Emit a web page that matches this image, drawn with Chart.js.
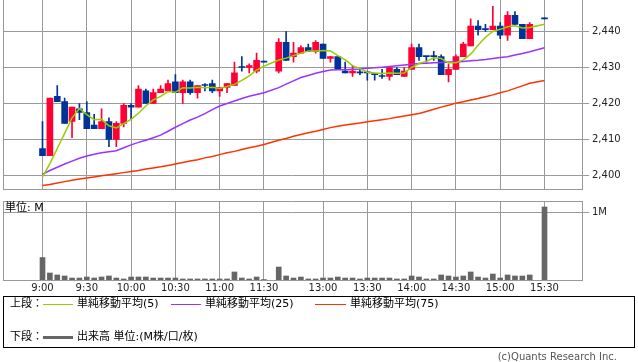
<!DOCTYPE html>
<html><head><meta charset="utf-8">
<script src="https://cdn.jsdelivr.net/npm/chart.js@4/dist/chart.umd.min.js"></script>
<style>
html,body{margin:0;padding:0;background:#fff;width:638px;height:362px;overflow:hidden;position:relative;font-family:"DejaVu Sans","Noto Sans CJK JP",sans-serif;}
#c1{position:absolute;left:0;top:-1px;}
#c2{position:absolute;left:0;top:190px;}
.t{position:absolute;white-space:nowrap;font-size:11px;line-height:12px;color:#000;}
.ln{position:absolute;height:1px;}
#box{position:absolute;left:3px;top:296px;width:632px;height:52px;box-sizing:border-box;border:1px solid #000;}
</style></head>
<body>
<canvas id="c1" width="638" height="200" style="width:638px;height:200px"></canvas>
<canvas id="c2" width="638" height="110" style="width:638px;height:110px"></canvas>
<div class="t" style="left:5px;top:202px;">単位: M</div>
<div id="box"></div>
<div class="t" style="left:10px;top:298px;">上段：</div>
<div class="ln" style="left:43px;top:304px;width:30px;background:#99cc00"></div>
<div class="t" style="left:77px;top:298px;">単純移動平均(5)</div>
<div class="ln" style="left:171px;top:304px;width:30px;background:#9933ff"></div>
<div class="t" style="left:205px;top:298px;">単純移動平均(25)</div>
<div class="ln" style="left:315px;top:304px;width:31px;background:#ff3300"></div>
<div class="t" style="left:350px;top:298px;">単純移動平均(75)</div>
<div class="t" style="left:10px;top:331px;">下段：</div>
<div class="ln" style="left:43px;top:336px;width:30px;height:3px;background:#666"></div>
<div class="t" style="left:77px;top:331px;">出来高 単位:(M株/口/枚)</div>
<div class="t" style="right:21px;top:351px;font-size:10px;color:#555;">(c)Quants Research Inc.</div>
<script>
// slot times (5-minute bars); slot 31 and 67 have no trades
const times = ['9:00','9:05','9:10','9:15','9:20','9:25','9:30','9:35','9:40','9:45','9:50','9:55',
 '10:00','10:05','10:10','10:15','10:20','10:25','10:30','10:35','10:40','10:45','10:50','10:55',
 '11:00','11:05','11:10','11:15','11:20','11:25','11:30','12:25',
 '12:30','12:35','12:40','12:45','12:50','12:55','13:00','13:05','13:10','13:15','13:20','13:25',
 '13:30','13:35','13:40','13:45','13:50','13:55','14:00','14:05','14:10','14:15','14:20','14:25',
 '14:30','14:35','14:40','14:45','14:50','14:55','15:00','15:05','15:10','15:15','15:20','15:25','15:30'];
const tickSlots = [0,6,12,18,24,30,38,44,50,56,62,68];
const priceTicks = [2400,2410,2420,2430,2440];
const volTicks = [1];

const open = [2407.5,2405.5,2422,2420.5,2415,2418.5,2417.5,2414,2413,2415,2410,2414.5,
 2419.5,2419,2423.5,2420,2423,2423.5,2426,2423,2426,2423,2425,2425.5,
 2423.5,2424.5,2425,2430,2430,2429,2431.5,null,
 2429,2437,2433,2434,2435.5,2434.5,2436.5,2432.5,2433,2429,2428.5,2428.5,
 2428.5,2428,2427.5,2427.5,2429.5,2427.5,2429.5,2435.5,2433,2433,2433,2428,
 2429.5,2433,2436,2441.5,2440.5,2440.5,2441.5,2439,2444.5,2442,2438,null,2443.5];
const high = [2415,2421.5,2425,2421.5,2419,2420,2420.5,2417,2418.5,2416,2415,2420,
 2420,2425,2424,2424,2425,2426.5,2428,2426.5,2426.5,2425,2425.5,2426.5,
 2424.5,2425.5,2431.5,2433,2431,2434,2431.5,null,
 2438,2440,2437,2436,2436.5,2437.5,2436.5,2433,2433,2431.5,2430.5,2429.5,
 2429,2428,2429.5,2430,2430,2430,2436.5,2436.5,2433,2434.5,2433.5,2431,
 2433.5,2437,2443.5,2443,2442,2447,2442.5,2445.5,2445.5,2442,2442.5,null,2443.5];
const low = [2405.5,2405.5,2420.5,2414.5,2410.5,2415.5,2413,2413,2413,2408,2408,2413.5,
 2415.5,2419,2420,2420,2423,2423.5,2423,2420,2422.5,2421.5,2423.5,2423,
 2422,2423,2425,2429,2428.5,2428.5,2431.5,null,
 2428.5,2432,2431.5,2434,2434.5,2434,2432.5,2431.5,2429.5,2428.5,2427.5,2428,
 2426.5,2426.5,2427,2426.5,2428,2427.5,2429.5,2432,2431.5,2432,2428,2426,
 2429.5,2433,2436,2439,2440,2440.5,2438,2437.5,2442,2438,2438,null,2443.5];
const close = [2405.5,2421.5,2420.5,2414.5,2419,2417.5,2413,2413,2415,2410,2414.5,2419.5,
 2419,2424,2420,2423,2424,2425.5,2423,2426,2423,2425,2425,2423.5,
 2424.5,2425.5,2428.5,2430,2430.5,2432,2431.5,null,
 2437,2432,2434,2435.5,2434.5,2437,2432.5,2433,2429.5,2428.5,2429,2428.5,
 2428.5,2428,2427.5,2430,2428,2429,2435.5,2433,2433,2433,2428,2429.5,
 2433,2436.5,2441.5,2440.5,2440.5,2441.5,2439,2444.5,2442,2438,2442,null,2443.5];
const ma5 = [2399.6,2403.3,2407.5,2411.7,2416.0,2418.6,2416.9,2415.5,2415.6,2413.8,2413.2,2414.4,
 2415.6,2417.3,2419.3,2421.0,2422.0,2423.3,2423.1,2424.4,2424.3,2424.5,2424.4,2424.5,
 2424.2,2424.7,2425.3,2426.4,2427.7,2429.3,2430.4,null,
 2432.1,2432.6,2433.3,2434.0,2434.6,2434.6,2434.7,2434.6,2433.3,2432.1,2430.5,2429.7,
 2428.7,2428.5,2428.3,2428.5,2428.4,2428.5,2430.0,2431.1,2431.7,2432.7,2432.5,2431.3,
 2431.3,2432.1,2433.7,2436.2,2438.4,2440.0,2440.6,2441.3,2441.6,2441.0,2441.1,null,2442.0];
const ma25 = [2400.4,2401.4,2402.3,2403.2,2404.0,2404.8,2405.4,2405.9,2406.3,2406.6,2406.9,2407.7,
 2408.5,2409.2,2409.8,2410.5,2411.2,2412.3,2413.4,2414.4,2415.4,2416.2,2417.2,2418.3,
 2419.3,2420.0,2420.7,2421.4,2422.0,2422.5,2423.0,null,
 2424.4,2425.4,2426.3,2427.2,2427.8,2428.4,2428.9,2429.3,2429.4,2429.4,2429.5,2429.6,
 2429.8,2429.9,2430.1,2430.3,2430.5,2430.7,2430.9,2431.1,2431.2,2431.3,2431.4,2431.5,
 2431.5,2431.7,2431.9,2432.0,2432.2,2432.5,2432.8,2433.0,2433.5,2433.9,2434.4,null,2435.5];
const ma75 = [2397.2,2397.5,2397.9,2398.3,2398.7,2399.0,2399.3,2399.6,2399.9,2400.2,2400.5,2400.8,
 2401.1,2401.4,2401.8,2402.1,2402.4,2402.8,2403.2,2403.6,2404.0,2404.4,2404.9,2405.3,
 2405.8,2406.3,2406.7,2407.2,2407.7,2408.1,2408.6,null,
 2409.8,2410.3,2410.9,2411.4,2411.9,2412.3,2412.8,2413.3,2413.7,2414.0,2414.3,2414.6,
 2414.9,2415.2,2415.5,2415.8,2416.2,2416.5,2416.9,2417.2,2417.8,2418.4,2419.0,2419.5,
 2420.1,2420.5,2421.0,2421.4,2421.9,2422.4,2423.0,2423.5,2424.2,2424.9,2425.6,null,2426.4];
// volume in millions
const volume = [0.33,0.103,0.074,0.059,0.029,0.029,0.044,0.029,0.044,0.059,0.029,0.015,
 0.044,0.044,0.044,0.029,0.029,0.029,0.029,0.015,0.015,0.015,0.015,0.015,
 0.015,0.015,0.118,0.029,0.015,0.044,0.007,null,
 0.191,0.059,0.029,0.044,0.015,0.015,0.029,0.029,0.044,0.029,0.029,0.015,
 0.029,0.029,0.029,0.029,0.015,0.015,0.059,0.044,0.015,0.015,0.074,0.059,
 0.044,0.059,0.118,0.044,0.029,0.088,0.029,0.074,0.059,0.059,0.074,null,1.074];

const RED = '#ff0033', BLUE = '#003399', GRID = '#999999';
const FONT = {family:'"DejaVu Sans","Noto Sans CJK JP",sans-serif', size:10};
const xMin = -5.3505, xMax = 73.0796;
const slots = times.map((t,i)=>i);
const traded = slots.filter(i=>open[i]!==null);
const candleColor = i => close[i] > open[i] ? RED : BLUE;

const frame = {id:'frame', afterDraw(ch){
  const a = ch.chartArea, c = ch.ctx;
  const l = Math.floor(a.left)+0.5, t = Math.floor(a.top)+0.5;
  c.save(); c.strokeStyle = GRID; c.lineWidth = 1;
  c.beginPath(); c.moveTo(l, a.bottom); c.lineTo(l, t); c.lineTo(a.right, t); c.stroke();
  c.restore();
}};
const xFit = s => { s.paddingLeft = 0; s.paddingRight = 0; };
const xTicks = s => { s.ticks = tickSlots.map(v=>({value:v})); };

new Chart(document.getElementById('c1'), {
  data: { datasets: [
    {type:'line', data: slots.map(i=>({x:i,y:ma5[i]})), borderColor:'#99cc00', borderWidth:1.5, pointRadius:0, spanGaps:true, order:0},
    {type:'line', data: slots.map(i=>({x:i,y:ma25[i]})), borderColor:'#9933ff', borderWidth:1.5, pointRadius:0, spanGaps:true, order:1},
    {type:'line', data: slots.map(i=>({x:i,y:ma75[i]})), borderColor:'#ff3300', borderWidth:1.5, pointRadius:0, spanGaps:true, order:2},
    {type:'bar', data: traded.map(i=>({x:i,y:[open[i],close[i]]})), backgroundColor: traded.map(candleColor), barThickness:6, minBarLength:1, grouped:false, order:3},
    {type:'bar', data: traded.map(i=>({x:i,y:[low[i],high[i]]})), backgroundColor: traded.map(candleColor), barThickness:1, minBarLength:1, grouped:false, order:4}
  ]},
  options: {
    responsive:false, animation:false, events:[],
    layout:{padding:{left:3,top:0,right:0,bottom:9.5}},
    plugins:{legend:{display:false}, tooltip:{enabled:false}},
    scales:{
      x:{type:'linear', min:xMin, max:xMax, offset:false, afterBuildTicks:xTicks,
         ticks:{display:false}, grid:{color:GRID, drawTicks:false, offset:false}, border:{display:true,color:GRID},
         afterFit(s){ s.height = 0; xFit(s); }},
      y:{position:'right', min:2396.111, max:2449.028,
         afterBuildTicks(s){ s.ticks = priceTicks.map(v=>({value:v})); },
         ticks:{font:FONT, color:'#222', padding:3, callback:v=>v.toLocaleString('en-US')},
         grid:{color:GRID, tickLength:7}, border:{color:GRID},
         afterFit(s){ s.width = 56; s.paddingTop = 0; s.paddingBottom = 0; }}
    }
  },
  plugins:[frame]
});

new Chart(document.getElementById('c2'), {
  data: { datasets: [
    {type:'bar', data: slots.filter(i=>volume[i]!==null).map(i=>({x:i,y:volume[i]})), backgroundColor:'#666666', barThickness:5, grouped:false}
  ]},
  options: {
    responsive:false, animation:false, events:[],
    layout:{padding:{left:3,top:11,right:0,bottom:0}},
    plugins:{legend:{display:false}, tooltip:{enabled:false}},
    scales:{
      x:{type:'linear', min:xMin, max:xMax, offset:false, afterBuildTicks:xTicks,
         ticks:{font:FONT, color:'#222', padding:2, maxRotation:0, autoSkip:false, callback:v=>times[v]},
         grid:{color:GRID, drawTicks:false, offset:false}, border:{display:true,color:GRID},
         afterFit(s){ s.height = 20; xFit(s); }},
      y:{position:'right', min:0, max:1.1618,
         afterBuildTicks(s){ s.ticks = volTicks.map(v=>({value:v})); },
         ticks:{font:FONT, color:'#222', padding:3, callback:v=>v+'M'},
         grid:{color:GRID, tickLength:7}, border:{color:GRID},
         afterFit(s){ s.width = 56; s.paddingTop = 0; s.paddingBottom = 0; }}
    }
  },
  plugins:[frame]
});
</script>
</body></html>
